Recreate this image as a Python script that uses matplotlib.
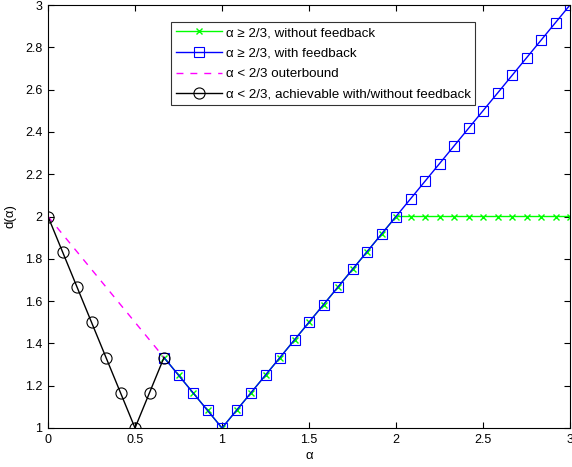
import matplotlib
matplotlib.use("Agg")
import matplotlib.pyplot as plt

plt.rcParams['font.family'] = ['Liberation Sans', 'DejaVu Sans']

# alpha grid (step 1/12)
alpha_high = [8/12, 9/12, 10/12, 11/12, 1.0, 13/12, 14/12, 15/12, 16/12, 17/12, 18/12,
              19/12, 20/12, 21/12, 22/12, 23/12, 2.0, 25/12, 26/12, 27/12, 28/12, 29/12,
              30/12, 31/12, 32/12, 33/12, 34/12, 35/12, 3.0]
d_no_feedback = [1.3333, 1.25, 1.1667, 1.0833, 1.0, 1.0833, 1.1667, 1.25, 1.3333, 1.4167, 1.5,
                 1.5833, 1.6667, 1.75, 1.8333, 1.9167, 2.0, 2.0, 2.0, 2.0, 2.0, 2.0,
                 2.0, 2.0, 2.0, 2.0, 2.0, 2.0, 2.0]
d_feedback = [1.3333, 1.25, 1.1667, 1.0833, 1.0, 1.0833, 1.1667, 1.25, 1.3333, 1.4167, 1.5,
              1.5833, 1.6667, 1.75, 1.8333, 1.9167, 2.0, 2.0833, 2.1667, 2.25, 2.3333, 2.4167,
              2.5, 2.5833, 2.6667, 2.75, 2.8333, 2.9167, 3.0]
alpha_outer = [0.0, 2/3]
d_outer = [2.0, 1.3333]
alpha_low = [0.0, 1/12, 2/12, 3/12, 4/12, 5/12, 6/12, 7/12, 8/12]
d_low = [2.0, 1.8333, 1.6667, 1.5, 1.3333, 1.1667, 1.0, 1.1667, 1.3333]

fig = plt.figure(figsize=(5.72, 4.67), dpi=100)
ax = fig.add_axes([48/572, 39/467, 522/572, 423/467])

ax.plot(alpha_high, d_no_feedback, color='#00ff00', marker='x', markersize=5, lw=1,
        label='α ≥ 2/3, without feedback')
ax.plot(alpha_high, d_feedback, color='#0000ff', marker='s', markersize=6.5, lw=1,
        markerfacecolor='none', markeredgewidth=0.8, label='α ≥ 2/3, with feedback')
ax.plot(alpha_outer, d_outer, color='#ff00ff', ls=(0, (5, 5)), lw=1,
        label='α < 2/3 outerbound')
ax.plot(alpha_low, d_low, color='black', marker='o', markersize=8, lw=1,
        markerfacecolor='none', markeredgewidth=0.8,
        label='α < 2/3, achievable with/without feedback')

ax.set_xlim(0, 3)
ax.set_ylim(1, 3)
ax.set_xticks([0, 0.5, 1, 1.5, 2, 2.5, 3])
ax.set_xticklabels(['0', '0.5', '1', '1.5', '2', '2.5', '3'])
ax.set_yticks([1, 1.2, 1.4, 1.6, 1.8, 2, 2.2, 2.4, 2.6, 2.8, 3])
ax.set_yticklabels(['1', '1.2', '1.4', '1.6', '1.8', '2', '2.2', '2.4', '2.6', '2.8', '3'])
ax.tick_params(direction='in', top=True, right=True, labelsize=9, length=4, pad=4)
ax.set_xlabel('α', fontsize=9.5, labelpad=3)
ax.set_ylabel('d(α)', fontsize=9.5, labelpad=6)

leg = ax.legend(loc='upper left', bbox_to_anchor=(171/572, 1 - 22/467),
                bbox_transform=fig.transFigure, fontsize=9.6, frameon=True,
                fancybox=False, edgecolor='black', borderpad=0.35, labelspacing=0.62,
                handlelength=3.5, handletextpad=0.25, borderaxespad=0)
leg.get_frame().set_linewidth(0.8)

fig.savefig('out.png', dpi=100)
